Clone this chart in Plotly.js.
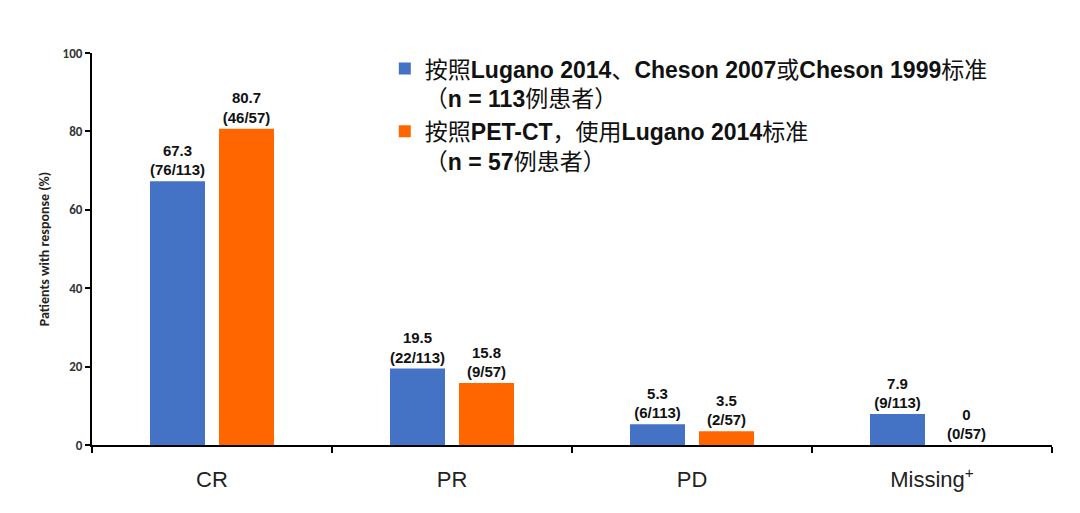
<!DOCTYPE html>
<html>
<head>
<meta charset="utf-8">
<script src="https://cdn.plot.ly/plotly-3.0.1.min.js"></script>
<style>html,body{margin:0;padding:0;background:#fff;}#chart{width:1080px;height:513px;}</style>
</head>
<body>
<div id="chart"></div>
<script>
const categories = ['CR', 'PR', 'PD', 'Missing<sup>+</sup>'];
const seriesNames = [
  '按照<b>Lugano 2014</b>、<b>Cheson 2007</b>或<b>Cheson 1999</b>标准<br>（<b>n = 113</b>例患者）',
  '按照<b>PET-CT</b>，使用<b>Lugano 2014</b>标准<br>（<b>n = 57</b>例患者）'
];
const valuesAll = [67.3, 19.5, 5.3, 7.9];
const countsAll = ['76/113', '22/113', '6/113', '9/113'];
const valuesPet = [80.7, 15.8, 3.5, 0];
const countsPet = ['46/57', '9/57', '2/57', '0/57'];
const yTicks = [0, 20, 40, 60, 80, 100];

function labels(vals, counts) {
  return vals.map((v, i) => '<b>' + v + '<br>(' + counts[i] + ')</b>');
}

const latin = 'Liberation Sans, Arial, Noto Sans CJK SC, sans-serif';
const calib = 'Carlito, Lato, Open Sans, sans-serif';
const textFont = {family: latin, size: 15, color: '#111'};

const traces = [
  {type: 'bar', x: categories, y: valuesAll, name: seriesNames[0],
   marker: {color: '#4472C4'}, text: labels(valuesAll, countsAll),
   textposition: 'outside', textfont: textFont, constraintext: 'none',
   cliponaxis: false, hoverinfo: 'x+y'},
  {type: 'bar', x: categories, y: valuesPet, name: seriesNames[1],
   marker: {color: '#FF6600'}, text: labels(valuesPet, countsPet),
   textposition: 'outside', textfont: textFont, constraintext: 'none',
   cliponaxis: false, hoverinfo: 'x+y'}
];

const layout = {
  width: 1080, height: 513,
  margin: {l: 92, r: 28, t: 53, b: 68},
  paper_bgcolor: '#fff', plot_bgcolor: '#fff',
  barmode: 'group', bargap: 0.425, bargroupgap: 0.203,
  font: {family: latin, color: '#111'},
  showlegend: true,
  legend: {
    x: 0.305, xanchor: 'left', y: 1.015, yanchor: 'top',
    valign: 'top', itemwidth: 30, tracegroupgap: 0,
    font: {family: latin, size: 23, color: '#111'},
    bgcolor: 'rgba(0,0,0,0)', itemclick: false
  },
  xaxis: {
    type: 'category', showline: true, linecolor: '#000', linewidth: 2,
    ticks: 'outside', tickson: 'boundaries', ticklen: 6, tickwidth: 1.5, tickcolor: '#000',
    showgrid: false, zeroline: false,
    tickfont: {family: latin, size: 22, color: '#222'},
    ticklabelstandoff: 14
  },
  yaxis: {
    range: [0, 100], tickvals: yTicks, ticktext: yTicks.map(String),
    showline: true, linecolor: '#000', linewidth: 2,
    ticks: 'outside', ticklen: 5, tickwidth: 1.5, tickcolor: '#000',
    showgrid: false, zeroline: false,
    tickfont: {family: calib, size: 13, color: '#333', weight: 'bold'},
    title: {text: '<b>Patients with response (%)</b>', standoff: 10,
            font: {family: calib, size: 14, color: '#222'}}
  }
};

Plotly.newPlot('chart', traces, layout, {displayModeBar: false});
</script>
</body>
</html>
